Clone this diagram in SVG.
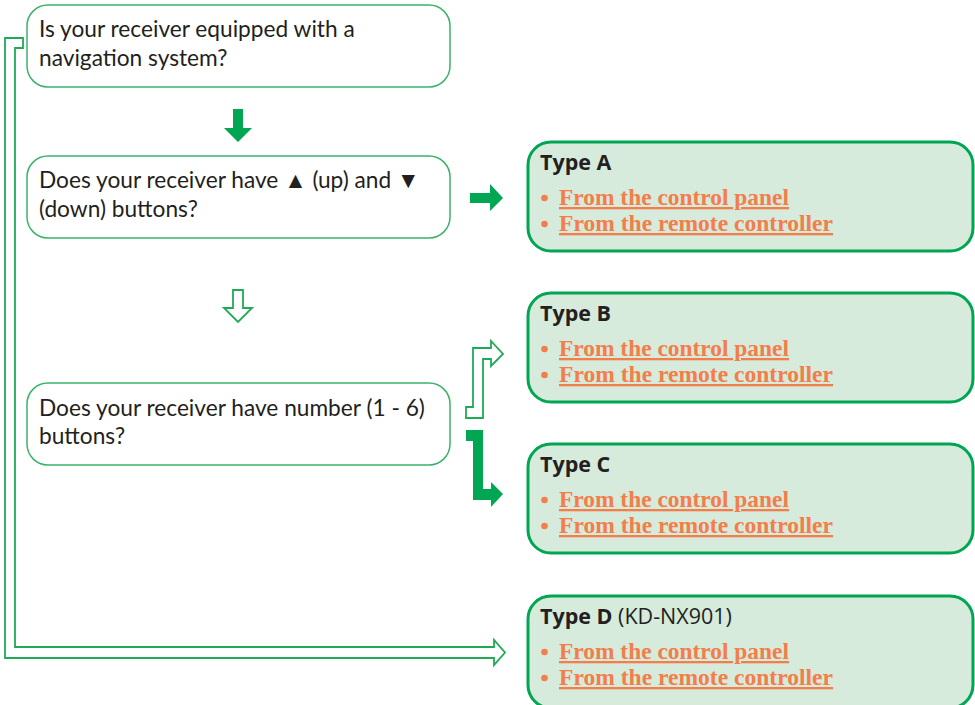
<svg xmlns="http://www.w3.org/2000/svg" width="975" height="705" viewBox="0 0 975 705">
<style>
.q{fill:#ffffff;stroke:#3bb36a;stroke-width:1.5}
.t{fill:#d6ebdc;stroke:#00a651;stroke-width:3}
.qt{font-family:Lato,"Open Sans",sans-serif;font-size:22.7px;fill:#231f20}
.tt{font-family:"Open Sans",Lato,sans-serif;font-size:21.5px;font-weight:bold;fill:#231f20}
.tr{font-weight:normal}
.lk{font-family:"Liberation Serif",serif;font-size:23px;font-weight:bold;fill:#f47d4a;text-decoration:underline}
.bl{fill:#f47d4a;stroke:none}
.sa{fill:#00a651;stroke:none}
.ha{fill:#ffffff;stroke:#1fab55;stroke-width:1.8}
</style>
<g id="connectors">
<polygon class="ha" points="5,38 23,38 23,48 15,48 15,647 494,647 494,640 505,652.5 494,665 494,658 5,658"/>
<polygon class="sa" points="233,109 243,109 243,128 252,128 238,142 224,128 233,128"/>
<polygon class="sa" points="470,193 490,193 490,184 503,198 490,211 490,203 470,203"/>
<polygon class="ha" points="233,290 243,290 243,308 252,308 238,322 224,308 233,308"/>
<polygon class="ha" points="466,418 466,407 473,407 473,348 491,348 491,341 503,354 491,366 491,359 483,359 483,418"/>
<polygon class="sa" points="466,430 483,430 483,489 491,489 491,482 503,494 491,507 491,500 473,500 473,441 466,441"/>
</g>
<g id="q1">
<rect class="q" x="27" y="5" width="423" height="82" rx="21"/>
<text class="qt" x="39" y="37">Is your receiver equipped with a</text>
<text class="qt" x="39" y="66">navigation system?</text>
</g>
<g id="q2">
<rect class="q" x="27" y="156" width="423" height="82" rx="21"/>
<text class="qt" x="39" y="188">Does your receiver have ▲ (up) and ▼</text>
<text class="qt" x="39" y="217">(down) buttons?</text>
</g>
<g id="q3">
<rect class="q" x="27" y="383" width="423" height="82" rx="21"/>
<text class="qt" x="39" y="416">Does your receiver have number (1 - 6)</text>
<text class="qt" x="39" y="444">buttons?</text>
</g>
<g id="typeA">
<rect class="t" x="528" y="142" width="445" height="109" rx="23"/>
<text class="tt" x="540" y="170">Type A</text>
<circle class="bl" cx="544.5" cy="198" r="3.3"/>
<text class="lk" x="559" y="205" textLength="230" lengthAdjust="spacingAndGlyphs">From the control panel</text>
<circle class="bl" cx="544.5" cy="224" r="3.3"/>
<text class="lk" x="559" y="231" textLength="274" lengthAdjust="spacingAndGlyphs">From the remote controller</text>
</g>
<g id="typeB">
<rect class="t" x="528" y="293" width="445" height="109" rx="23"/>
<text class="tt" x="540" y="321">Type B</text>
<circle class="bl" cx="544.5" cy="349" r="3.3"/>
<text class="lk" x="559" y="356" textLength="230" lengthAdjust="spacingAndGlyphs">From the control panel</text>
<circle class="bl" cx="544.5" cy="375" r="3.3"/>
<text class="lk" x="559" y="382" textLength="274" lengthAdjust="spacingAndGlyphs">From the remote controller</text>
</g>
<g id="typeC">
<rect class="t" x="528" y="444" width="445" height="109" rx="23"/>
<text class="tt" x="540" y="472">Type C</text>
<circle class="bl" cx="544.5" cy="500" r="3.3"/>
<text class="lk" x="559" y="507" textLength="230" lengthAdjust="spacingAndGlyphs">From the control panel</text>
<circle class="bl" cx="544.5" cy="526" r="3.3"/>
<text class="lk" x="559" y="533" textLength="274" lengthAdjust="spacingAndGlyphs">From the remote controller</text>
</g>
<g id="typeD">
<rect class="t" x="528" y="596" width="445" height="112" rx="23"/>
<text class="tt" x="540" y="624">Type D<tspan class="tr"> (KD-NX901)</tspan></text>
<circle class="bl" cx="544.5" cy="652" r="3.3"/>
<text class="lk" x="559" y="659" textLength="230" lengthAdjust="spacingAndGlyphs">From the control panel</text>
<circle class="bl" cx="544.5" cy="678" r="3.3"/>
<text class="lk" x="559" y="685" textLength="274" lengthAdjust="spacingAndGlyphs">From the remote controller</text>
</g>
</svg>
